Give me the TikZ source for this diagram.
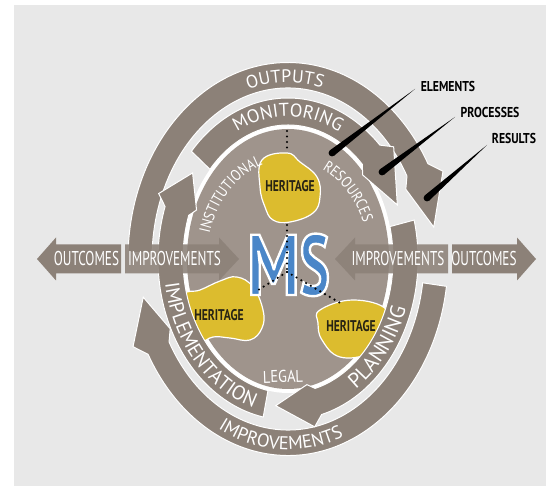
\documentclass[tikz,border=0pt]{standalone}
\usepackage{fontspec}
\setmainfont{PT Sans}
\newfontfamily\ringff{PT Sans}
\newfontfamily\innff[FakeStretch=0.85]{PT Sans}
\newfontfamily\boxff[FakeStretch=0.66]{PT Sans}
\newfontfamily\labff[FakeStretch=0.82]{PT Sans}
\newfontfamily\heriff[FakeStretch=0.75]{PT Sans}
\newfontfamily\msffM[FakeStretch=0.76]{PT Sans}
\newfontfamily\msffS[FakeStretch=0.66]{PT Sans}
\usetikzlibrary{decorations.text,calc}
\definecolor{bgc}{RGB}{232,232,232}
\definecolor{ringc}{RGB}{140,129,120}
\definecolor{innerc}{RGB}{159,148,140}
\definecolor{yellowc}{RGB}{220,188,46}
\definecolor{bluec}{RGB}{74,134,200}
\definecolor{darkt}{RGB}{40,36,20}
\newcommand\fOut{\ringff\fontsize{18}{18}\selectfont}
\newcommand\fMon{\ringff\fontsize{18.5}{18.5}\selectfont}
\newcommand\fImpB{\ringff\fontsize{18.5}{18.5}\selectfont}
\newcommand\fImpl{\ringff\fontsize{20}{20}\selectfont}
\newcommand\fPlan{\ringff\fontsize{21}{21}\selectfont}
\newcommand\fIn{\innff\fontsize{15.5}{15.5}\selectfont}
\newcommand\fLegal{\innff\fontsize{17}{17}\selectfont}
\newcommand\fBox{\boxff\fontsize{20}{20}\selectfont}
\newcommand\fHer{\heriff\bfseries\fontsize{15.5}{15.5}\selectfont}
\newcommand\fLab{\labff\bfseries\fontsize{14.3}{14.3}\selectfont}
\newcommand\fMS{\msffS\bfseries\fontsize{86}{86}\selectfont}
\newcommand\outlinedMS{\color{bluec}\special{pdf:literal direct 1 1 1 RG 2.4 w 2 Tr}{\msffM M}{\msffS S}\special{pdf:literal direct 0 Tr}}
\newcommand\taper[2]{\fill[black] (#1) -- ($(#2)!3.4pt!90:(#1)$) -- ($(#2)!3.4pt!-90:(#1)$) -- cycle; \fill[black] (#2) circle[radius=3.4];}
\tikzset{
  ringarrow/.style={fill=ringc, draw=white, line width=1pt},
  ringtextc/.style={decorate, decoration={text along path, text align=center, text color=white, text={#1}}},
  ringtextl/.style={decorate, decoration={text along path, text align=left, text color=white, text={#1}}},
  hbox/.style={fill=ringc},
  hboxt/.style={fill=ringc, fill opacity=0.88},
  boxtext/.style={text=white, font=\fBox, inner sep=0pt},
  blob/.style={fill=yellowc, draw=white, line width=1.2pt},
  hertext/.style={text=darkt, font=\fHer, inner sep=0pt},
  labtext/.style={text=black, font=\fLab, inner sep=0pt},
  dotline/.style={line width=2.4pt, line cap=round, dash pattern=on 0pt off 5.5pt, black}
}
\begin{document}
\begin{tikzpicture}[x=1pt,y=1pt]
\useasboundingbox (0,0) rectangle (546,486);
\fill[white] (0,0) rectangle (546,486);
\fill[bgc] (14,0) rectangle (546,481);

\begin{scope}[shift={(288,227)}]
  \fill[white] (0,0) ellipse[x radius=105, y radius=134];
  \fill[innerc] (0,0) ellipse[x radius=101, y radius=130];
\end{scope}

% heritage blobs
\fill[blob] plot[smooth cycle, tension=0.7] coordinates {(262,326) (287,333) (300,324) (317,309) (320,289) (313,273) (290,264) (273,266) (265,279) (260,299)};
\fill[blob] plot[smooth cycle, tension=0.7] coordinates {(183,191) (200,196) (220,205) (237,209) (253,199) (263,176) (262,158) (250,146) (230,148) (213,149) (200,143) (186,144) (181,166)};
\fill[blob] plot[smooth cycle, tension=0.7] coordinates {(320,176) (353,186) (387,176) (385,151) (370,133) (340,129) (322,146) (318,163)};

\begin{scope}[shift={(288,227)}]
  % outer ring: OUTPUTS
  \path[ringarrow] (178:160 and 196.5) arc[start angle=178, end angle=29, x radius=160, y radius=196.5]
    -- (25:171 and 207.5) -- (10:148 and 183.75) -- (25:130 and 165) -- (29:136 and 171)
    arc[start angle=29, end angle=178, x radius=136, y radius=171] -- cycle;
  % outer ring: IMPROVEMENTS
  \path[ringarrow] (-8:160 and 196.5) arc[start angle=-8, end angle=-151, x radius=160, y radius=196.5]
    -- (-155:171 and 207.5) -- (-168:148 and 183.75) -- (-155:130 and 165) -- (-151:136 and 171)
    arc[start angle=-151, end angle=-8, x radius=136, y radius=171] -- cycle;
  % middle ring: MONITORING
  \path[ringarrow] (138:130 and 161) arc[start angle=138, end angle=45, x radius=130, y radius=161]
    -- (41:140 and 171) -- (21.5:117.5 and 147.5) -- (41:99 and 128) -- (45:105 and 134)
    arc[start angle=45, end angle=138, x radius=105, y radius=134] -- cycle;
  % middle ring: PLANNING
  \path[ringarrow] (14:130 and 161) arc[start angle=14, end angle=-75, x radius=130, y radius=161]
    -- (-79:140 and 171) -- (-96:117.5 and 147.5) -- (-79:99 and 128) -- (-75:105 and 134)
    arc[start angle=-75, end angle=14, x radius=105, y radius=134] -- cycle;
  % middle ring: IMPLEMENTATION
  \path[ringarrow] (-101:130 and 161) arc[start angle=-101, end angle=-199, x radius=130, y radius=161]
    -- (-202.5:140 and 171) -- (-215.7:117.5 and 147.5) -- (-202.5:99 and 128) -- (-199:105 and 134)
    arc[start angle=-199, end angle=-101, x radius=105, y radius=134] -- cycle;

  % ring texts
  \path[ringtextc={|\fOut|OUTPUTS}] (150:141 and 176.5) arc[start angle=150, end angle=32, x radius=141, y radius=176.5];
  \path[ringtextc={|\fMon|MONITORING}] (160:112.5 and 142.5) arc[start angle=160, end angle=20, x radius=112.5, y radius=142.5];
  \path[ringtextc={|\fImpB|IMPROVEMENTS}] (200:154 and 190.5) arc[start angle=200, end angle=335, x radius=154, y radius=190.5];
  \path[ringtextl={|\fImpl|IMPLEMENTATION}] (189:124.5 and 155) arc[start angle=189, end angle=275, x radius=124.5, y radius=155];
  \path[ringtextl={|\fPlan|PLANNING}] (-57:124.5 and 155) arc[start angle=-57, end angle=10, x radius=124.5, y radius=155];
  \path[ringtextl={|\fIn|INSTITUTIONAL}] (165:81 and 99) arc[start angle=165, end angle=90, x radius=81, y radius=99];
  \path[ringtextl={|\fIn|RESOURCES}] (65:81 and 99) arc[start angle=65, end angle=0, x radius=81, y radius=99];
\end{scope}

\node[text=white, font=\fLegal, inner sep=0pt, rotate=2] (legal) at (283,109.5) {LEGAL};

\node[hertext] (her1) at (290,300) {HERITAGE};
\node[hertext] (her2) at (219,171) {HERITAGE};
\node[hertext] (her3) at (351,160) {HERITAGE};

% MS
\coordinate (msb) at (288.5,191);
\node[text=bluec, anchor=base, inner sep=0pt, font=\fMS] (ms) at (msb) {\outlinedMS};

% dotted links
\coordinate (dtop1) at (287,355);
\coordinate (dtop2) at (287,338);
\coordinate (dv1) at (287,261);
\coordinate (dj) at (287,214);
\coordinate (dl) at (255,194);
\coordinate (dr) at (342,182);
\draw[dotline] (dtop1) -- (dtop2);
\draw[dotline] (dv1) -- (dj);
\draw[dotline] (dj) -- (dl);
\draw[dotline] (dj) -- (dr);

% horizontal arrows
\fill[hbox] (121,241.5) -- (56,241.5) -- (56,248.5) -- (37,227) -- (56,205.5) -- (56,212.5) -- (121,212.5) -- cycle;
\fill[hboxt] (125,241.5) -- (219,241.5) -- (219,248.5) -- (239,227) -- (219,205.5) -- (219,212.5) -- (125,212.5) -- cycle;
\fill[hboxt] (448,241.5) -- (355,241.5) -- (355,248.5) -- (335,227) -- (355,205.5) -- (355,212.5) -- (448,212.5) -- cycle;
\fill[hbox] (452,241.5) -- (517,241.5) -- (517,248.5) -- (536,227) -- (517,205.5) -- (517,212.5) -- (452,212.5) -- cycle;
\node[boxtext] (outcL) at (86.5,227) {OUTCOMES};
\node[boxtext] (impL) at (174.5,227) {IMPROVEMENTS};
\node[boxtext] (impR) at (398,227) {IMPROVEMENTS};
\node[boxtext] (outcR) at (484,227) {OUTCOMES};

% labels and pointers
\node[labtext] (elem) at (448,399) {ELEMENTS};
\node[labtext] (proc) at (490,373.5) {PROCESSES};
\node[labtext] (resu) at (514,347) {RESULTS};
\coordinate (elA) at (415,397);
\coordinate (elB) at (332,333);
\coordinate (prA) at (455,369);
\coordinate (prB) at (382,314);
\coordinate (reA) at (487,341);
\coordinate (reB) at (427,288);
\taper{elA}{elB}
\taper{prA}{prB}
\taper{reA}{reB}
\end{tikzpicture}
\end{document}
